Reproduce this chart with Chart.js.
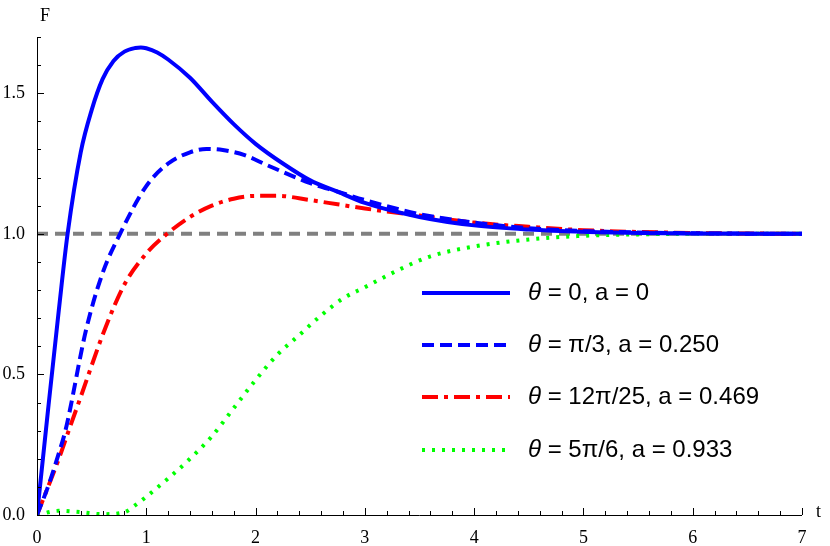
<!DOCTYPE html>
<html><head><meta charset="utf-8">
<script src="https://cdn.jsdelivr.net/npm/chart.js@4"></script>
<style>html,body{margin:0;padding:0;background:#fff}#w{width:830px;height:546px}</style>
</head><body><div id="w"><canvas id="c"></canvas></div>
<script>
const tSolid = [0,0.1,0.2,0.28,0.4,0.5,0.6,0.7,0.8,0.9,0.95,1.0,1.1,1.2,1.4,1.6,1.8,2.0,2.25,2.5,2.75,3.0,3.5,4.0,4.5,5.0,5.5,6.0,7.0];
const fSolid = [0,0.37,0.73,1.0,1.29,1.44,1.55,1.615,1.648,1.661,1.663,1.66,1.645,1.62,1.555,1.47,1.39,1.32,1.25,1.19,1.15,1.11,1.06,1.03,1.015,1.007,1.003,1.001,1.0];
const tDash = [0,0.1,0.2,0.26,0.45,0.6,0.76,1.0,1.2,1.4,1.55,1.7,1.9,2.1,2.25,2.5,2.75,3.0,3.5,4.0,4.5,5.0,6.0,7.0];
const fDash = [0,0.1,0.22,0.3,0.66,0.86,1.0,1.17,1.25,1.29,1.302,1.298,1.28,1.245,1.22,1.18,1.15,1.12,1.07,1.04,1.02,1.01,1.002,1.0];
const tDot = [0,0.2,0.29,0.4,0.62,0.8,1.0,1.19,1.4,1.6,1.8,2.0,2.2,2.5,2.75,3.0,3.5,4.0,4.5,5.0,6.0,7.0];
const fDot = [0,0.2,0.30,0.42,0.66,0.82,0.93,1.0,1.06,1.10,1.125,1.135,1.135,1.12,1.105,1.09,1.065,1.04,1.025,1.013,1.003,1.0];
const tDotted = [0,0.2,0.4,0.6,0.8,0.9,1.0,1.2,1.4,1.6,1.8,2.0,2.2,2.4,2.6,2.8,3.0,3.3,3.6,4.0,4.5,5.0,5.5,6.0,7.0];
const fDotted = [0,0.015,0.01,0.003,0.01,0.035,0.065,0.13,0.2,0.28,0.38,0.48,0.57,0.64,0.71,0.77,0.81,0.87,0.92,0.955,0.98,0.993,0.998,1.0,1.0];
const tRef = [0,7];
const fRef = [1,1];
const legendLabels = ['\u03b8 = 0, a = 0','\u03b8 = \u03c0/3, a = 0.250','\u03b8 = 12\u03c0/25, a = 0.469','\u03b8 = 5\u03c0/6, a = 0.933'];
const xTicks = [0,1,2,3,4,5,6,7];
const yTicks = [0,0.5,1.0,1.5];

const pts = (t,f)=>t.map((v,i)=>({x:v,y:f[i]}));
const base = {showLine:true,pointRadius:0,fill:false,cubicInterpolationMode:'monotone',borderWidth:4};
const ds = [
 {...base,data:pts(tSolid,fSolid),borderColor:'#0000ff',borderDash:[]},
 {...base,data:pts(tDash,fDash),borderColor:'#0000ff',borderDash:[12,6]},
 {...base,data:pts(tDot,fDot),borderColor:'#ff0000',borderDash:[16,6,4,6]},
 {...base,data:pts(tDotted,fDotted),borderColor:'#00ff00',borderDash:[3,7]},
 {...base,data:pts(tRef,fRef),borderColor:'#808080',borderDash:[11,7],borderWidth:4,order:10}
];
const deco = {id:'deco',afterDraw(ch){
  const c=ch.ctx,x=ch.scales.x,y=ch.scales.y,a=ch.chartArea;
  c.save();c.strokeStyle='#000';c.lineWidth=1;c.setLineDash([]);
  c.beginPath();c.moveTo(a.left+0.5,a.top);c.lineTo(a.left+0.5,a.bottom);c.moveTo(a.left,a.bottom+0.5);c.lineTo(a.right,a.bottom+0.5);c.stroke();
  c.beginPath();
  for(let i=0;i<=35;i++){const v=i*0.2,px=Math.round(x.getPixelForValue(v))+0.5,L=(i%5===0)?7:4;c.moveTo(px,a.bottom);c.lineTo(px,a.bottom-L);}
  for(let i=0;i<=17;i++){const v=i*0.1,py=Math.round(y.getPixelForValue(v))+0.5,L=(i%5===0)?7:4;c.moveTo(a.left,py);c.lineTo(a.left+L,py);}
  c.stroke();
  c.fillStyle='#000';c.font='18px "Liberation Serif"';c.textBaseline='middle';
  c.fillText('F',a.left+3,16);c.fillText('t',816,512);
  const cols=['#0000ff','#0000ff','#ff0000','#00ff00'],dashes=[[],[12,6],[16,6,4,6],[3,7]],rows=[293,345,397,450];
  for(let i=0;i<4;i++){
    c.strokeStyle=cols[i];c.lineWidth=4;c.setLineDash(dashes[i]);
    c.beginPath();c.moveTo(422,rows[i]);c.lineTo(510,rows[i]);c.stroke();
    c.fillStyle='#000';c.textAlign='left';
    const th='\u03b8';c.font='italic 24px "Liberation Sans"';c.fillText(th,528,rows[i]);
    const w=c.measureText(th).width;c.font='24px "Liberation Sans"';c.fillText(legendLabels[i].slice(1),528+w,rows[i]);
  }
  c.restore();
}};
new Chart(document.getElementById('c'),{type:'scatter',data:{datasets:ds},
 options:{responsive:true,maintainAspectRatio:false,animation:false,
  layout:{padding:{left:0,right:28,top:37,bottom:0}},
  plugins:{legend:{display:false},tooltip:{enabled:false}},
  scales:{
   x:{type:'linear',min:0,max:7,afterBuildTicks:s=>{s.ticks=xTicks.map(v=>({value:v}));},
      afterFit:s=>{s.height=31;},grid:{display:false},border:{display:false},
      ticks:{color:'#000',font:{family:'Liberation Serif',size:18},padding:4,maxRotation:0,callback:v=>String(v)}},
   y:{type:'linear',min:0,max:1.7,afterBuildTicks:s=>{s.ticks=yTicks.map(v=>({value:v}));},
      afterFit:s=>{s.width=37;},grid:{display:false},border:{display:false},
      ticks:{color:'#000',font:{family:'Liberation Serif',size:18},padding:4,callback:v=>v.toFixed(1)}}
  }},plugins:[deco]});
</script></body></html>
